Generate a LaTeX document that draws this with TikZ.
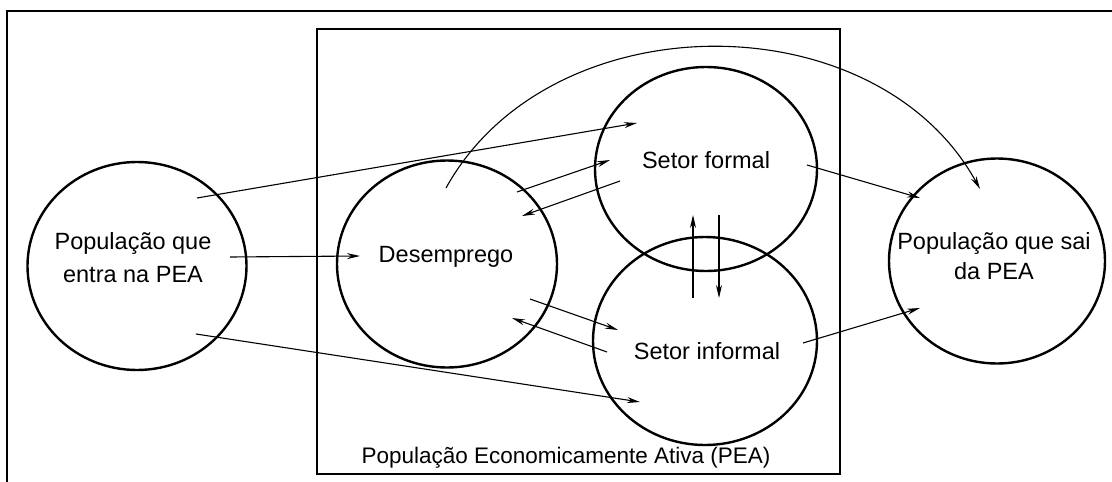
\documentclass[tikz,border=0pt]{standalone}
\usepackage{fontspec}
\setmainfont{Liberation Sans}
\usetikzlibrary{shapes.geometric,arrows.meta}
\begin{document}
\begin{tikzpicture}[x=1pt,y=-1pt,
  circ/.style={draw,ellipse,line width=2.4pt,inner sep=0pt},
  lbl/.style={font=\fontsize{23.5}{30}\selectfont,align=center,inner sep=0pt},
  flow/.style={line width=1.1pt,-{Stealth[length=13pt,width=6pt]}}]
\useasboundingbox (0,0) rectangle (1112,482);
\fill[white] (0,0) rectangle (1112,482);
\begin{scope}
  \clip (0,0) rectangle (1112,482);
  \draw[line width=1.5pt] (7,11) rectangle (1130,500);
\end{scope}
\node[draw,line width=2pt,minimum width=523pt,minimum height=445pt,inner sep=0pt] (pea) at (578.5,251.5) {};
\node[lbl,font=\fontsize{22.5}{30}\selectfont] (tpea) at (566,458) {População Economicamente Ativa (PEA)};

\node[circ,minimum width=219pt,minimum height=208pt] (entra) at (137,266) {};
\node[circ,minimum width=220pt,minimum height=207pt] (des) at (447,264) {};
\node[circ,minimum width=222pt,minimum height=204pt] (formal) at (706,169) {};
\node[circ,minimum width=224pt,minimum height=208pt] (inf) at (705,341) {};
\node[circ,minimum width=216pt,minimum height=205pt] (sai) at (997,261) {};

\node[lbl,font=\fontsize{23.5}{33}\selectfont] (tentra) at (133,258) {População que\\entra na PEA};
\node[lbl] (tdes) at (446,257) {Desemprego};
\node[lbl] (tformal) at (706,160) {Setor formal};
\node[lbl] (tinf) at (707,351) {Setor informal};
\node[lbl] (tsai) at (994,256) {População que sai\\da PEA};

% arrow end points
\coordinate (e1) at (197,198); \coordinate (f1) at (637,123);
\coordinate (e2) at (230,257); \coordinate (d2) at (360,256);
\coordinate (e3) at (196,334); \coordinate (i3) at (640,402);
\coordinate (dc) at (446,188); \coordinate (sc) at (980,189);
\coordinate (d4) at (517,192); \coordinate (f4) at (610,160);
\coordinate (f5) at (620,181); \coordinate (d5) at (522,216);
\coordinate (d6) at (530,299); \coordinate (i6) at (618,330);
\coordinate (i7) at (607,352); \coordinate (d7) at (512,318);
\coordinate (i8) at (693,298); \coordinate (f8) at (693,215);
\coordinate (f9) at (719,215); \coordinate (i9) at (719,298);
\coordinate (f10) at (807,165); \coordinate (s10) at (920,198);
\coordinate (i11) at (803,343); \coordinate (s11) at (920,308);

\draw[flow] (e1) -- (f1);
\draw[flow] (e2) -- (d2);
\draw[flow] (e3) -- (i3);
\draw[flow] (dc) .. controls (550,0) and (876,0) .. (sc);
\draw[flow] (d4) -- (f4);
\draw[flow] (f5) -- (d5);
\draw[flow] (d6) -- (i6);
\draw[flow] (i7) -- (d7);
\draw[flow] (i8) -- (f8);
\draw[flow] (f9) -- (i9);
\draw[flow] (f10) -- (s10);
\draw[flow] (i11) -- (s11);
\end{tikzpicture}
\end{document}
